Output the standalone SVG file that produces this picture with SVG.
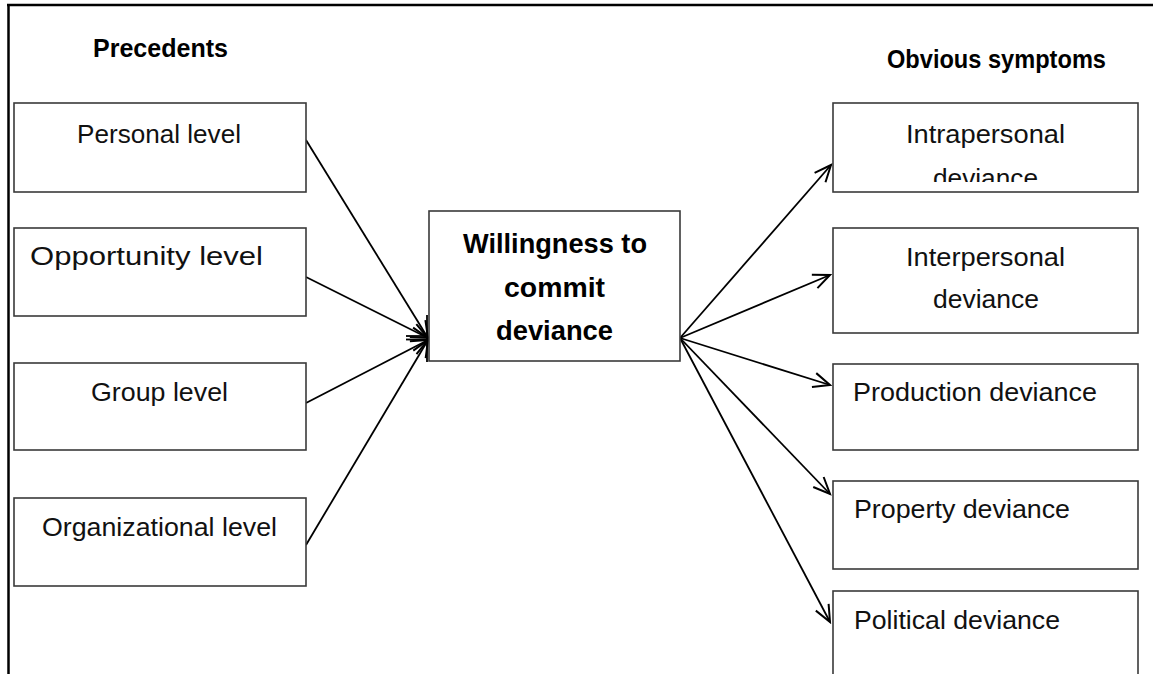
<svg xmlns="http://www.w3.org/2000/svg" width="1157" height="674" viewBox="0 0 1157 674">
<style>
.box{fill:#fff;stroke:#3a3a3a;stroke-width:1.6}
.t{font-family:"Liberation Sans",Arial,sans-serif;font-size:25px;fill:#111}
.b{font-family:"Liberation Sans",Arial,sans-serif;font-size:26px;font-weight:bold;fill:#000}
.bc{font-family:"Liberation Sans",Arial,sans-serif;font-size:27px;font-weight:bold;fill:#000}
.c{stroke:#000;stroke-width:1.8;fill:none;marker-end:url(#ah)}
.s{stroke:#000;stroke-width:1.8;fill:none}
</style>
<defs>
<marker id="ah" markerUnits="userSpaceOnUse" markerWidth="20" markerHeight="20" viewBox="-16 -8 18 16" refX="0" refY="0" orient="auto">
<path d="M-15,-6.5 L0,0 L-15,6.5" fill="none" stroke="#000" stroke-width="1.8"/>
</marker>
<clipPath id="clipIntra"><rect x="833" y="103" width="305" height="79"/></clipPath>
</defs>
<rect width="1157" height="674" fill="#fff"/>
<g id="frame">
<line x1="8.5" y1="4" x2="8.5" y2="674" stroke="#000" stroke-width="2.5"/>
<line x1="7" y1="5" x2="1153" y2="5" stroke="#000" stroke-width="2.5"/>
</g>
<g id="title-precedents"><text class="b" x="93" y="57" textLength="135" lengthAdjust="spacingAndGlyphs">Precedents</text></g>
<g id="title-symptoms"><text class="b" x="887" y="68" textLength="219" lengthAdjust="spacingAndGlyphs">Obvious symptoms</text></g>
<g id="connectors">
<line class="c" x1="306" y1="140" x2="428" y2="338"/>
<line class="c" x1="306" y1="277" x2="428" y2="338"/>
<line class="c" x1="306" y1="403" x2="428" y2="340"/>
<line class="c" x1="306" y1="545" x2="428" y2="340"/>
<line class="s" x1="406" y1="336" x2="427" y2="336"/>
<line class="s" x1="406" y1="339.5" x2="427" y2="339.5"/>
<line class="s" x1="427" y1="315" x2="427" y2="362"/>
<line class="c" x1="680" y1="338" x2="831" y2="165"/>
<line class="c" x1="680" y1="338" x2="830" y2="275"/>
<line class="c" x1="680" y1="338" x2="830" y2="385"/>
<line class="c" x1="680" y1="338" x2="830" y2="494"/>
<line class="c" x1="680" y1="338" x2="830" y2="622"/>
</g>
<g id="personal"><rect class="box" x="14" y="103" width="292" height="89"/><text class="t" x="77" y="143" textLength="164" lengthAdjust="spacingAndGlyphs">Personal level</text></g>
<g id="opportunity"><rect class="box" x="14" y="228" width="292" height="88"/><text class="t" x="30" y="265" textLength="233" lengthAdjust="spacingAndGlyphs">Opportunity level</text></g>
<g id="group"><rect class="box" x="14" y="363" width="292" height="87"/><text class="t" x="91" y="401" textLength="137" lengthAdjust="spacingAndGlyphs">Group level</text></g>
<g id="organizational"><rect class="box" x="14" y="498" width="292" height="88"/><text class="t" x="42" y="536" textLength="235" lengthAdjust="spacingAndGlyphs">Organizational level</text></g>
<g id="center"><rect class="box" x="429" y="211" width="251" height="150"/>
<text class="bc" x="463" y="253" textLength="184" lengthAdjust="spacingAndGlyphs">Willingness to</text>
<text class="bc" x="504" y="297" textLength="101" lengthAdjust="spacingAndGlyphs">commit</text>
<text class="bc" x="496" y="340" textLength="117" lengthAdjust="spacingAndGlyphs">deviance</text></g>
<g id="intrapersonal"><rect class="box" x="833" y="103" width="305" height="89"/>
<text class="t" x="906" y="143" textLength="159" lengthAdjust="spacingAndGlyphs">Intrapersonal</text>
<text class="t" x="933" y="187" textLength="105" lengthAdjust="spacingAndGlyphs" clip-path="url(#clipIntra)">deviance</text></g>
<g id="interpersonal"><rect class="box" x="833" y="228" width="305" height="105"/>
<text class="t" x="906" y="266" textLength="159" lengthAdjust="spacingAndGlyphs">Interpersonal</text>
<text class="t" x="933" y="308" textLength="106" lengthAdjust="spacingAndGlyphs">deviance</text></g>
<g id="production"><rect class="box" x="833" y="364" width="305" height="86"/><text class="t" x="853" y="401" textLength="244" lengthAdjust="spacingAndGlyphs">Production deviance</text></g>
<g id="property"><rect class="box" x="833" y="481" width="305" height="88"/><text class="t" x="854" y="518" textLength="216" lengthAdjust="spacingAndGlyphs">Property deviance</text></g>
<g id="political"><rect class="box" x="833" y="591" width="305" height="90"/><text class="t" x="854" y="629" textLength="206" lengthAdjust="spacingAndGlyphs">Political deviance</text></g>
</svg>
